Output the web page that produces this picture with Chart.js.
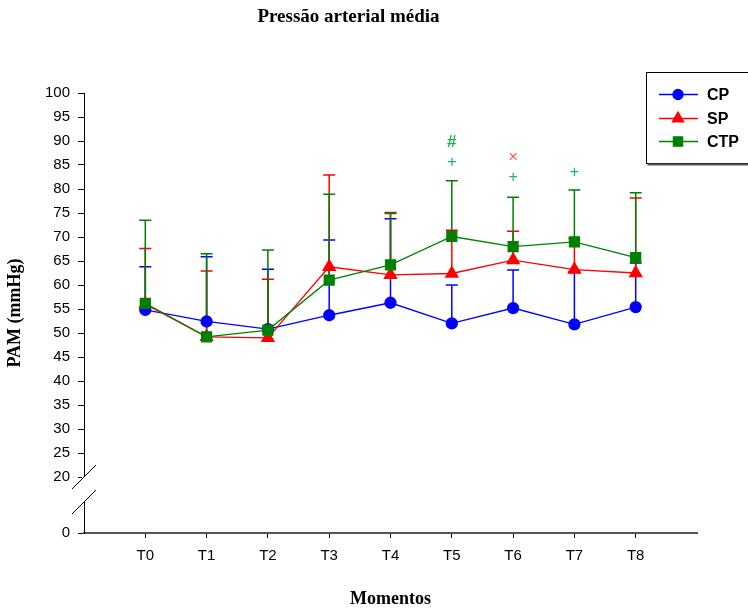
<!DOCTYPE html>
<html>
<head>
<meta charset="utf-8">
<script src="https://cdn.jsdelivr.net/npm/chart.js@4/dist/chart.umd.min.js"></script>
<style>
  html, body { margin: 0; padding: 0; background: #fff; }
  #wrap { width: 748px; height: 608px; }
</style>
</head>
<body>
<div id="wrap"><canvas id="c" width="748" height="608"></canvas></div>
<script>
// ---- data ----
const categories = ['T0', 'T1', 'T2', 'T3', 'T4', 'T5', 'T6', 'T7', 'T8'];
const seriesNames = ['CP', 'SP', 'CTP'];
const cpMean  = [54.8, 52.4, 50.8, 53.7, 56.3, 52.0, 55.2, 51.8, 55.4];
const cpSD    = [9.0, 13.5, 12.5, 15.7, 17.5, 8.0, 7.9, 11.0, 9.2];
const spMean  = [56.0, 49.2, 49.0, 63.8, 62.1, 62.4, 65.2, 63.2, 62.5];
const spSD    = [11.6, 13.7, 12.2, 19.1, 13.0, 9.0, 6.0, 6.5, 15.6];
const ctpMean = [56.2, 49.2, 50.6, 61.0, 64.2, 70.1, 68.0, 69.0, 65.7];
const ctpSD   = [17.3, 17.3, 16.7, 17.9, 10.7, 11.6, 10.3, 10.8, 13.5];
const yTicks  = [20, 25, 30, 35, 40, 45, 50, 55, 60, 65, 70, 75, 80, 85, 90, 95, 100];
const yBreakLabel = '0';
// significance marks
const markLabels = ['#', '+', '\u00D7', '+', '+'];
const markIndex  = [5, 5, 6, 6, 7];
const markValue  = [89.8, 85.4, 86.7, 82.4, 83.5];
const markSeries = ['CTP', 'CTP', 'SP', 'CTP', 'CTP'];

// ---- styling ----
const colors = { CP: '#0000ff', SP: '#ff0000', CTP: '#008000' };
const markColors = { CP: '#3b6bff', SP: '#ff5a5a', CTP: '#1db35a' };
const pointStyles = { CP: 'circle', SP: 'triangle', CTP: 'rect' };
const pointRadii = { CP: 5.5, SP: 7, CTP: 7 };
const Y_MIN = 20 - 56 / 24 * 5; // axis break: 0 is drawn 56px below 20
const means = { CP: cpMean, SP: spMean, CTP: ctpMean };
const sds = { CP: cpSD, SP: spSD, CTP: ctpSD };

const datasets = seriesNames.map((name, k) => ({
  label: name,
  data: means[name].map((v, i) => ({ x: i, y: v })),
  borderColor: colors[name],
  backgroundColor: colors[name],
  pointBackgroundColor: colors[name],
  pointBorderColor: colors[name],
  pointStyle: pointStyles[name],
  pointRadius: pointRadii[name],
  pointHoverRadius: pointRadii[name],
  borderWidth: 1.3,
  tension: 0,
  order: 3 - k
}));

const errorBars = {
  id: 'errorBars',
  beforeDatasetsDraw(chart) {
    const ctx = chart.ctx;
    const xs = chart.scales.x, ys = chart.scales.y;
    ctx.save();
    seriesNames.forEach(name => {
      ctx.strokeStyle = colors[name];
      ctx.lineWidth = 1.5;
      means[name].forEach((m, i) => {
        const x = xs.getPixelForValue(i);
        const y0 = ys.getPixelForValue(m);
        const y1 = ys.getPixelForValue(m + sds[name][i]);
        ctx.beginPath();
        ctx.moveTo(x, y0); ctx.lineTo(x, y1);
        ctx.moveTo(x - 6, y1); ctx.lineTo(x + 6, y1);
        ctx.stroke();
      });
    });
    ctx.restore();
  }
};

const extras = {
  id: 'extras',
  afterDraw(chart) {
    const ctx = chart.ctx;
    const xs = chart.scales.x, ys = chart.scales.y;
    ctx.save();
    // significance marks
    ctx.textAlign = 'center';
    ctx.textBaseline = 'middle';
    markLabels.forEach((t, j) => {
      ctx.fillStyle = markColors[markSeries[j]];
      ctx.font = (t === '#' ? 'bold 17px' : (t === '+' ? '16px' : '17px')) + ' "Liberation Sans", Arial, sans-serif';
      ctx.fillText(t, xs.getPixelForValue(markIndex[j]), ys.getPixelForValue(markValue[j]));
    });
    // axis break
    const ax = xs.left;
    const y20 = ys.getPixelForValue(20);
    const yB = y20 + 25;
    ctx.fillStyle = '#fff';
    ctx.fillRect(ax - 2, y20, 4, yB - y20);
    ctx.strokeStyle = '#000';
    ctx.lineWidth = 1;
    ctx.beginPath();
    ctx.moveTo(ax - 12, y20 + 12); ctx.lineTo(ax + 12, y20 - 12);
    ctx.moveTo(ax - 12, yB + 12); ctx.lineTo(ax + 12, yB - 12);
    ctx.stroke();
    // legend
    const lx = 646.5, ly = 72.5, lw = 120, lh = 91;
    ctx.fillStyle = '#fff';
    ctx.fillRect(lx, ly, lw, lh);
    ctx.strokeStyle = '#000';
    ctx.lineWidth = 1;
    ctx.strokeRect(lx, ly, lw, lh);
    ctx.strokeStyle = '#555';
    ctx.lineWidth = 2;
    ctx.beginPath();
    ctx.moveTo(lx + 1, ly + lh + 1); ctx.lineTo(lx + lw, ly + lh + 1);
    ctx.stroke();
    const rows = [94.5, 118.5, 141.5];
    seriesNames.forEach((name, k) => {
      const y = rows[k];
      ctx.strokeStyle = colors[name];
      ctx.lineWidth = 1.3;
      ctx.beginPath(); ctx.moveTo(659, y); ctx.lineTo(698, y); ctx.stroke();
      ctx.fillStyle = colors[name];
      ctx.strokeStyle = colors[name];
      ctx.beginPath();
      Chart.helpers.drawPoint(ctx, { pointStyle: pointStyles[name], radius: pointRadii[name] - 0.5, borderWidth: 1 }, 678, y);
      ctx.fillStyle = '#000';
      ctx.font = 'bold 16px "Liberation Sans", Arial, sans-serif';
      ctx.textAlign = 'left';
      ctx.fillText(name, 707, y + 1);
    });
    ctx.restore();
  }
};

new Chart(document.getElementById('c'), {
  type: 'line',
  data: { datasets },
  plugins: [errorBars, extras],
  options: {
    responsive: false,
    animation: false,
    events: [],
    layout: { padding: { left: 0, right: 51, top: 0, bottom: 0 } },
    plugins: {
      legend: { display: false },
      tooltip: { enabled: false },
      title: {
        display: true,
        text: 'Pressão arterial média',
        color: '#000',
        font: { family: '"Liberation Serif", "Times New Roman", serif', size: 19, weight: 'bold', lineHeight: 1.2 },
        padding: { top: 6, bottom: 64.2 }
      }
    },
    scales: {
      x: {
        type: 'linear',
        min: -1,
        max: 9,
        afterBuildTicks(scale) { scale.ticks = categories.map((c, i) => ({ value: i })); },
        afterFit(scale) { scale.height = 75; },
        ticks: {
          callback: (v) => categories[v],
          color: '#000',
          font: { family: '"Liberation Sans", Arial, sans-serif', size: 15 },
          padding: 9,
          maxRotation: 0,
          autoSkip: false
        },
        grid: { display: true, drawOnChartArea: false, drawTicks: true, tickLength: 5, color: '#000' },
        border: { display: true, color: '#555', width: 2 },
        title: {
          display: true,
          text: 'Momentos',
          color: '#000',
          font: { family: '"Liberation Serif", "Times New Roman", serif', size: 18, weight: 'bold', lineHeight: 1 },
          padding: { top: 1, bottom: 0 }
        }
      },
      y: {
        type: 'linear',
        min: Y_MIN,
        max: 100,
        afterBuildTicks(scale) {
          scale.ticks = [{ value: Y_MIN }].concat(yTicks.map(v => ({ value: v })));
        },
        afterFit(scale) { scale.width = 84; },
        ticks: {
          callback: (v) => (v === Y_MIN ? yBreakLabel : String(v)),
          color: '#000',
          font: { family: '"Liberation Sans", Arial, sans-serif', size: 15 },
          padding: 8,
          autoSkip: false
        },
        grid: { display: true, drawOnChartArea: false, drawTicks: true, tickLength: 6, color: '#000' },
        border: { display: true, color: '#000', width: 1 },
        title: {
          display: true,
          text: 'PAM (mmHg)',
          color: '#000',
          font: { family: '"Liberation Serif", "Times New Roman", serif', size: 18, weight: 'bold', lineHeight: 1 },
          padding: { top: 6, bottom: 0 }
        }
      }
    }
  }
});
</script>
</body>
</html>
